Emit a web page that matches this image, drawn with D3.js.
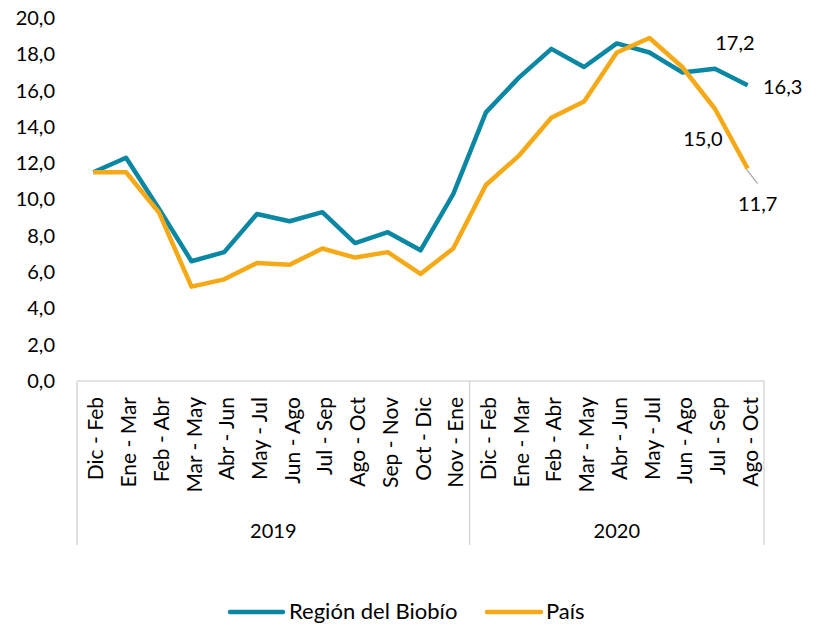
<!DOCTYPE html>
<html><head><meta charset="utf-8">
<script src="https://cdn.jsdelivr.net/npm/d3@7"></script>
<style>body{margin:0;background:#fff}svg{display:block}text{font-family:Lato,"Open Sans",sans-serif;fill:#000}</style>
</head><body><svg id="c" width="818" height="625"></svg>
<script>
const categories = ["Dic - Feb","Ene - Mar","Feb - Abr","Mar - May","Abr - Jun","May - Jul","Jun - Ago","Jul - Sep","Ago - Oct","Sep - Nov","Oct - Dic","Nov - Ene",
                    "Dic - Feb","Ene - Mar","Feb - Abr","Mar - May","Abr - Jun","May - Jul","Jun - Ago","Jul - Sep","Ago - Oct"];
const years = [{label:"2019", count:12},{label:"2020", count:9}];
const biobio = [11.5,12.3,9.5,6.6,7.1,9.2,8.8,9.3,7.6,8.2,7.2,10.3,14.8,16.7,18.3,17.3,18.6,18.1,17.0,17.2,16.3];
const pais   = [11.5,11.5,9.3,5.2,5.6,6.5,6.4,7.3,6.8,7.1,5.9,7.3,10.8,12.4,14.5,15.4,18.1,18.9,17.3,15.0,11.7];
const yTicks = [0,2,4,6,8,10,12,14,16,18,20];
const seriesNames = ["Región del Biobío","País"];
const colors = ["#0a87a3","#f5a916"];

const svg = d3.select("#c");
const pLeft = 77, pRight = 764, pTop = 18, pBottom = 381;
const x = d3.scaleBand().domain(d3.range(categories.length)).range([pLeft,pRight]);
const y = d3.scaleLinear().domain([0,20]).range([pBottom,pTop]);
const cx = i => x(i) + x.bandwidth()/2;
const fmt = v => d3.format(".1f")(v).replace(".",",");

// y axis labels
const yAxis = d3.axisLeft(y).tickValues(yTicks).tickFormat(fmt).tickSize(0).tickPadding(0);
const gy = svg.append("g").attr("transform",`translate(55,0)`).call(yAxis);
gy.select(".domain").remove();
gy.selectAll("text").style("font-size","20px").style("font-family","Lato").attr("fill","#000");

// category axis box
const grid = "#d9d9d9";
svg.append("line").attr("x1",pLeft).attr("x2",pRight).attr("y1",pBottom).attr("y2",pBottom).attr("stroke",grid).attr("stroke-width",1.5);
let acc = 0;
const bounds = [0];
years.forEach(yr=>{acc+=yr.count; bounds.push(acc);});
bounds.forEach(b=>{
  const xx = b===categories.length ? pRight : x(b);
  svg.append("line").attr("x1",xx).attr("x2",xx).attr("y1",pBottom).attr("y2",545).attr("stroke",grid).attr("stroke-width",1.5);
});
years.forEach((yr,k)=>{
  const a = x(bounds[k]), b = bounds[k+1]===categories.length ? pRight : x(bounds[k+1]);
  svg.append("text").attr("x",(a+b)/2).attr("y",538).attr("text-anchor","middle").style("font-size","20px").text(yr.label);
});
categories.forEach((c,i)=>{
  svg.append("text").attr("transform",`translate(${cx(i)+10},397) rotate(-90)`)
    .attr("text-anchor","end").style("font-size","21px").text(c);
});

// lines
const line = d3.line().x((d,i)=>cx(i)).y(d=>y(d));
[biobio,pais].forEach((s,k)=>{
  svg.append("path").datum(s).attr("d",line).attr("fill","none").attr("stroke",colors[k])
    .attr("stroke-width",4.5).attr("stroke-linejoin","round");
});

// data labels
const n = categories.length;
const lab = (v,xx,yy)=>svg.append("text").attr("x",xx).attr("y",yy).attr("text-anchor","middle").style("font-size","20px").text(fmt(v));
lab(biobio[n-2], cx(n-2)+20, y(biobio[n-2])-19);
lab(biobio[n-1], cx(n-1)+35, y(biobio[n-1])+9);
lab(pais[n-2], cx(n-2)-12, y(pais[n-2])+37);
lab(pais[n-1], cx(n-1)+10, y(pais[n-1])+42);
svg.append("line").attr("x1",cx(n-1)-1).attr("y1",y(pais[n-1])+1).attr("x2",cx(n-1)+10).attr("y2",y(pais[n-1])+15)
  .attr("stroke","#a6a6a6").attr("stroke-width",1.2);

// legend
const leg = [{x1:230,x2:283,tx:289},{x1:487,x2:541,tx:546}];
leg.forEach((l,k)=>{
  svg.append("line").attr("x1",l.x1).attr("x2",l.x2).attr("y1",612).attr("y2",612).attr("stroke",colors[k]).attr("stroke-width",4.5).attr("stroke-linecap","round");
  svg.append("text").attr("x",l.tx).attr("y",619).style("font-size","22px").text(seriesNames[k]);
});
</script></body></html>
